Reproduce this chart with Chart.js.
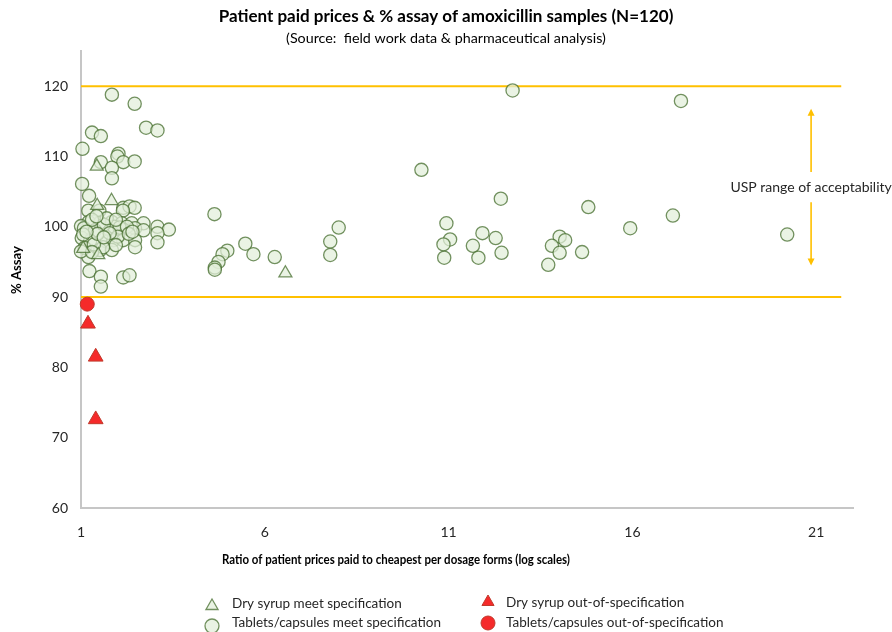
<!DOCTYPE html>
<html>
<head>
<meta charset="utf-8">
<script src="https://cdn.jsdelivr.net/npm/chart.js@4.4.1/dist/chart.umd.min.js"></script>
<style>
  html, body { margin: 0; padding: 0; background: #ffffff; }
  #wrap { width: 892px; height: 632px; position: relative; }
</style>
</head>
<body>
<div id="wrap"><canvas id="chart" width="892" height="632"></canvas></div>
<script>
// Price ratio (x) and % assay (y) per sample group
const tabletsMeetX = [
  1.84, 2.46, 2.77, 3.08, 1.30, 1.54, 1.04, 2.02, 1.99, 2.15, 2.46, 1.54, 1.84, 1.84, 1.03, 1.22,
  2.15, 2.32, 2.46, 2.14, 1.20, 1.50,
  1.21, 1.52, 1.84, 2.11, 2.38, 2.70, 1.00, 3.08, 3.39, 3.08, 2.15, 2.47, 1.08, 1.79, 2.70, 1.38,
  1.90, 2.05, 1.62, 1.30, 1.70, 1.42, 1.95, 2.25,
  1.02, 1.25, 1.70, 1.88, 2.15, 2.47, 2.47, 3.08, 1.52, 1.84, 1.60, 1.20, 1.23, 1.54, 1.54, 2.15,
  2.32, 1.10, 1.00, 1.35, 1.06, 1.45, 2.00, 1.78, 2.30, 1.15, 1.62, 2.40, 1.30, 1.95,
  4.63, 8.01, 7.78, 7.78, 5.47, 5.69, 6.27, 4.98, 4.85, 4.74, 4.64, 4.64,
  10.26, 12.42, 14.80, 10.94, 11.04, 10.86, 10.88, 11.92, 11.66, 11.81, 12.28, 12.44, 14.02, 14.17,
  13.81, 14.02, 13.71, 14.63, 15.94, 12.74, 17.32, 17.10, 20.21
];
const tabletsMeetY = [
  118.8, 117.5, 114.1, 113.7, 113.4, 112.9, 111.1, 110.4, 110.0, 109.2, 109.3, 109.2, 108.4, 106.9, 106.1, 104.4,
  102.7, 102.9, 102.7, 102.3, 102.3, 102.3,
  100.7, 100.6, 100.7, 100.5, 100.5, 100.5, 100.1, 100.0, 99.6, 99.1, 99.6, 99.8, 99.8, 99.5, 99.5, 99.5,
  100.0, 99.9, 100.3, 101.0, 101.2, 101.5, 101.0, 100.0,
  98.4, 98.0, 97.9, 98.1, 98.1, 98.1, 97.1, 97.8, 96.7, 96.7, 97.1, 95.7, 93.7, 92.9, 91.5, 92.8,
  93.1, 97.0, 96.5, 97.5, 98.9, 99.0, 98.6, 99.1, 99.0, 99.3, 98.5, 99.3, 96.4, 97.4,
  101.8, 99.9, 97.9, 96.0, 97.6, 96.1, 95.7, 96.6, 96.1, 95.0, 94.2, 93.9,
  108.1, 104.0, 102.8, 100.5, 98.2, 97.5, 95.6, 99.1, 97.3, 95.6, 98.4, 96.3, 98.6, 98.1,
  97.3, 96.3, 94.6, 96.4, 99.8, 119.4, 117.9, 101.6, 98.9
];
const syrupMeetX = [1.43, 1.83, 1.44, 1.06, 1.47, 6.56];
const syrupMeetY = [108.6, 103.7, 103.0, 96.9, 96.0, 93.4];
const syrupOutX = [1.19, 1.40, 1.40];
const syrupOutY = [86.2, 81.5, 72.6];
const tabletsOutX = [1.17];
const tabletsOutY = [89.0];

// Axis ticks and the USP acceptance limits
const xTicks = [1, 6, 11, 16, 21];
const yTicks = [60, 70, 80, 90, 100, 110, 120];
const uspLimits = [90, 120];
const limitSpan = [1, 21.68];

const labels = {
  title: 'Patient paid prices & % assay of amoxicillin samples (N=120)',
  subtitle: '(Source:  field work data & pharmaceutical analysis)',
  xTitle: 'Ratio of patient prices paid to cheapest per dosage forms (log scales)',
  yTitle: '% Assay',
  usp: 'USP range of acceptability',
  series: [
    'Dry syrup meet specification',
    'Tablets/capsules meet specification',
    'Dry syrup out-of-specification',
    'Tablets/capsules out-of-specification'
  ]
};

const FONT = 'Lato, "Liberation Sans", sans-serif';
const toPoints = (xs, ys) => xs.map((x, i) => ({ x: x, y: ys[i] }));

const greenFill = 'rgba(226, 239, 218, 0.72)';
const greenEdge = 'rgba(70, 110, 45, 0.75)';
const redFill = '#f52a2a';
const redEdge = '#c0392b';
const gold = '#ffc000';

const limitSets = uspLimits.map(v => ({
  type: 'line',
  data: limitSpan.map(x => ({ x: x, y: v })),
  borderColor: gold,
  borderWidth: 2,
  pointRadius: 0,
  showLine: true,
  fill: false,
  clip: false,
  order: 10
}));

const pointSets = [
  { label: labels.series[0], data: toPoints(syrupMeetX, syrupMeetY), pointStyle: 'triangle',
    pointRadius: 7.5, backgroundColor: greenFill, borderColor: greenEdge, borderWidth: 1.3 },
  { label: labels.series[1], data: toPoints(tabletsMeetX, tabletsMeetY), pointStyle: 'circle',
    pointRadius: 6.6, backgroundColor: greenFill, borderColor: greenEdge, borderWidth: 1.3 },
  { label: labels.series[2], data: toPoints(syrupOutX, syrupOutY), pointStyle: 'triangle',
    pointRadius: 8.5, backgroundColor: redFill, borderColor: redEdge, borderWidth: 1 },
  { label: labels.series[3], data: toPoints(tabletsOutX, tabletsOutY), pointStyle: 'circle',
    pointRadius: 7, backgroundColor: redFill, borderColor: redEdge, borderWidth: 1 }
].map(d => Object.assign({ type: 'scatter', clip: false, pointHoverRadius: d.pointRadius, order: 1 }, d));

// Draws text squeezed horizontally so it spans at most maxWidth
function fitText(ctx, text, x, y, maxWidth) {
  const w = ctx.measureText(text).width;
  const k = Math.min(1, maxWidth / w);
  ctx.save();
  ctx.translate(x, y);
  ctx.scale(k, 1);
  ctx.fillText(text, 0, 0);
  ctx.restore();
}

// Axis titles, USP arrow and the two-column legend
const decorations = {
  id: 'decorations',
  afterDatasetsDraw(chart) {
    const ctx = chart.ctx;
    const xs = chart.scales.x, ys = chart.scales.y;
    ctx.save();

    // axis titles
    ctx.fillStyle = '#000000';
    ctx.textAlign = 'center';
    ctx.textBaseline = 'middle';
    ctx.font = 'bold 13.5px ' + FONT;
    fitText(ctx, labels.xTitle, 396, 560, 348);
    ctx.save();
    ctx.translate(17, 270);
    ctx.rotate(-Math.PI / 2);
    fitText(ctx, labels.yTitle, 0, 0, 48);
    ctx.restore();

    // double arrow with label
    const ax = xs.getPixelForValue(20.86);
    const yTop = ys.getPixelForValue(116.8);
    const yUpEnd = ys.getPixelForValue(107.8);
    const yLowStart = ys.getPixelForValue(103.5);
    const yBot = ys.getPixelForValue(94.5);
    ctx.strokeStyle = gold;
    ctx.fillStyle = gold;
    ctx.lineWidth = 1.6;
    ctx.beginPath();
    ctx.moveTo(ax, yTop + 6); ctx.lineTo(ax, yUpEnd);
    ctx.moveTo(ax, yLowStart); ctx.lineTo(ax, yBot - 6);
    ctx.stroke();
    ctx.beginPath();
    ctx.moveTo(ax, yTop); ctx.lineTo(ax - 3.5, yTop + 7); ctx.lineTo(ax + 3.5, yTop + 7); ctx.closePath();
    ctx.moveTo(ax, yBot); ctx.lineTo(ax - 3.5, yBot - 7); ctx.lineTo(ax + 3.5, yBot - 7); ctx.closePath();
    ctx.fill();
    ctx.fillStyle = '#262626';
    ctx.font = '14px ' + FONT;
    ctx.fillText(labels.usp, ax, (yUpEnd + yLowStart) / 2);

    // legend
    const slots = [
      { ds: 0, mx: 212, my: 606, tx: 232, ty: 604 },
      { ds: 1, mx: 212, my: 626, tx: 232, ty: 623 },
      { ds: 2, mx: 488, my: 602, tx: 506, ty: 603 },
      { ds: 3, mx: 488, my: 623, tx: 506, ty: 623 }
    ];
    ctx.font = '13.5px ' + FONT;
    ctx.textAlign = 'left';
    slots.forEach(s => {
      const d = chart.data.datasets[s.ds + limitSets.length];
      ctx.fillStyle = d.backgroundColor;
      ctx.strokeStyle = d.borderColor;
      ctx.lineWidth = d.borderWidth;
      Chart.helpers.drawPoint(ctx, {
        pointStyle: d.pointStyle,
        radius: 7,
        rotation: 0,
        borderWidth: d.borderWidth
      }, s.mx, s.my);
      ctx.fillStyle = '#262626';
      ctx.fillText(d.label, s.tx, s.ty);
    });
    ctx.restore();
  }
};

new Chart(document.getElementById('chart'), {
  data: { datasets: limitSets.concat(pointSets) },
  options: {
    responsive: false,
    animation: false,
    events: [],
    layout: { padding: 0 },
    plugins: {
      legend: { display: false },
      tooltip: { enabled: false },
      title: {
        display: true,
        text: labels.title,
        color: '#000000',
        font: { family: FONT, size: 17, weight: 'bold' },
        padding: { top: 6, bottom: 2 }
      },
      subtitle: {
        display: true,
        text: labels.subtitle,
        color: '#000000',
        font: { family: FONT, size: 14.3 },
        padding: { top: 1, bottom: 4.5 }
      }
    },
    scales: {
      x: {
        type: 'linear',
        min: 1,
        max: 22,
        afterBuildTicks: s => { s.ticks = xTicks.map(v => ({ value: v })); },
        afterFit: s => { s.height = 124; },
        grid: { display: true, drawOnChartArea: false, drawTicks: false, color: 'rgba(0,0,0,0)' },
        border: { display: true, color: '#c6c6c6', width: 2 },
        ticks: { padding: 16, color: '#262626', font: { family: FONT, size: 14 }, maxRotation: 0 }
      },
      y: {
        type: 'linear',
        min: 60,
        max: 125,
        afterBuildTicks: s => { s.ticks = yTicks.map(v => ({ value: v })); },
        afterFit: s => { s.width = 81; },
        grid: { display: true, drawOnChartArea: false, drawTicks: false, color: 'rgba(0,0,0,0)' },
        border: { display: true, color: '#c6c6c6', width: 2 },
        ticks: { padding: 13, color: '#262626', font: { family: FONT, size: 14 } }
      },
      // empty margin on the right of the plot area
      margin: {
        type: 'linear',
        position: 'right',
        min: 0,
        max: 1,
        afterFit: s => { s.width = 39; },
        grid: { display: false },
        border: { display: false },
        ticks: { display: false }
      }
    }
  },
  plugins: [decorations]
});
</script>
</body>
</html>
